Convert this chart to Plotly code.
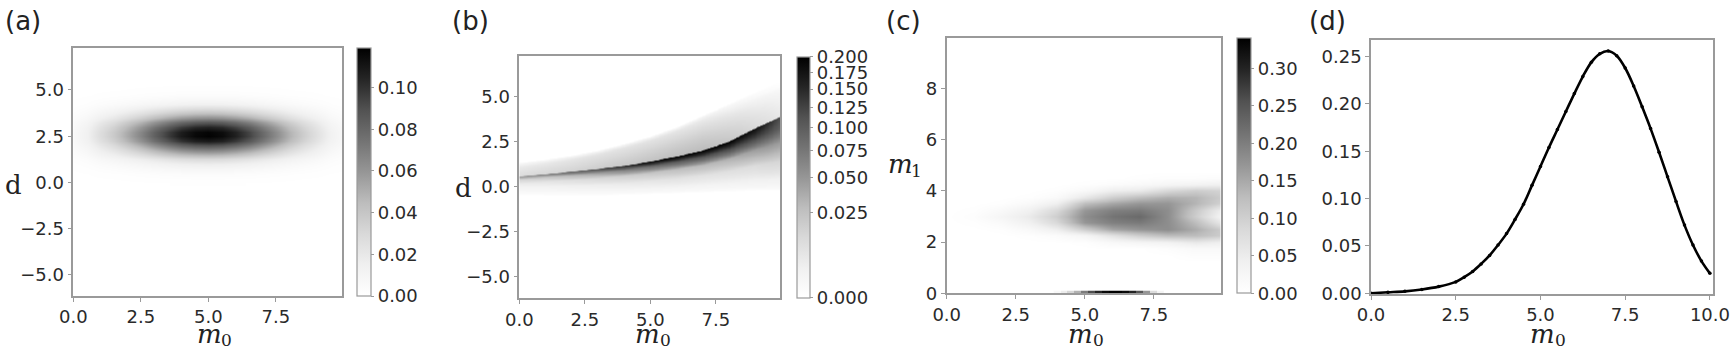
import numpy as np
import plotly.graph_objects as go

# ---------------- data ----------------
# Panel (a): separable blob, profiles read along the two axes
A_M0 = [0.0, 0.5, 1.0, 1.5, 2.0, 2.5, 3.0, 3.5, 4.0, 4.5, 5.0, 5.5, 6.0, 6.5, 7.0, 7.5, 8.0, 8.5, 9.0, 9.5, 10.0]
A_M0_PROFILE = [0.06, 0.12, 0.229, 0.325, 0.439, 0.567, 0.698, 0.82, 0.918, 0.981, 1.0, 0.972, 0.901, 0.797,
                0.672, 0.541, 0.415, 0.304, 0.212, 0.11, 0.06]
A_D = [0.0, 0.25, 0.5, 0.75, 1.0, 1.25, 1.5, 1.75, 2.0, 2.25, 2.5, 2.75, 3.0, 3.25, 3.5, 3.75, 4.0, 4.25,
       4.5, 4.75, 5.0, 5.25]
A_D_PROFILE = [0.005, 0.013, 0.032, 0.069, 0.135, 0.241, 0.389, 0.569, 0.755, 0.909, 0.992, 0.983, 0.882,
               0.719, 0.531, 0.356, 0.216, 0.119, 0.060, 0.027, 0.011, 0.004]
A_PEAK = 0.119
A_CB_TICKS = [0.0, 0.02, 0.04, 0.06, 0.08, 0.10]

# Panel (b): curved ridge, per-column features read at m0 = 0..10
B_M0 = [0, 1, 2, 3, 4, 5, 6, 7, 8, 9, 10]
B_RIDGE = [0.56, 0.69, 0.83, 0.98, 1.15, 1.39, 1.67, 2.0, 2.5, 3.24, 3.9]      # d of sharp ridge
B_UPPER = [1.08, 1.26, 1.48, 1.76, 2.13, 2.54, 3.06, 3.7, 4.35, 5.0, 5.6]      # d of upper band edge
B_FLOOR = [-0.5, -0.5, -0.5, -0.5, -0.45, -0.4, -0.35, -0.3, -0.25, -0.2, -0.2]  # d where it fades out
B_PEAK = [0.05, 0.065, 0.09, 0.116, 0.151, 0.188, 0.2, 0.2, 0.2, 0.18, 0.113]
B_BAND = [0.011, 0.013, 0.015, 0.018, 0.021, 0.024, 0.027, 0.028, 0.022, 0.012, 0.005]
B_EDGE = [0.005, 0.006, 0.007, 0.008, 0.008, 0.008, 0.007, 0.005, 0.002, 0.0005, 0.0]
B_T15 = [0.3, 0.32, 0.35, 0.38, 0.42, 0.45, 0.5, 0.55, 0.6, 0.7, 0.85]
B_T35 = [0.1, 0.1, 0.105, 0.11, 0.115, 0.12, 0.135, 0.15, 0.17, 0.25, 0.4]
B_T60 = [0.03, 0.03, 0.032, 0.033, 0.034, 0.035, 0.04, 0.04, 0.045, 0.06, 0.12]
B_T85 = [0.006, 0.006, 0.006, 0.006, 0.007, 0.007, 0.008, 0.008, 0.009, 0.012, 0.02]
B_VMAX = 0.2
B_CB_TICKS = [0.0, 0.025, 0.05, 0.075, 0.1, 0.125, 0.15, 0.175, 0.2]

# Panel (c): grid of values read at (m0, m1)
C_M0 = [0, 1, 2, 3, 4, 5, 6, 7, 8, 9, 10]
C_M1 = [1.25, 1.5, 1.75, 2.0, 2.25, 2.5, 2.75, 3.0, 3.25, 3.5, 3.75, 4.0, 4.25, 4.5, 4.75]
C_Z = [
    [0, 0, 0, 0, 0, 0, 0, 0, 0, 0, 0],
    [0, 0, 0, 0, 0, 0, 0, 0, 0, .007, .007],
    [0, 0, 0, 0, 0, 0, 0, 0, .007, .017, .017],
    [0, 0, 0, 0, 0, .003, .017, .027, .034, .054, .041],
    [0, 0, 0, .003, .010, .027, .068, .102, .126, .126, .102],
    [0, 0, .003, .017, .044, .102, .153, .170, .180, .146, .102],
    [0, .003, .014, .041, .085, .170, .197, .204, .180, .126, .054],
    [0, .007, .027, .054, .102, .180, .211, .224, .180, .102, .027],
    [0, .003, .017, .041, .085, .170, .197, .204, .180, .109, .041],
    [0, 0, .003, .017, .044, .126, .153, .170, .170, .136, .092],
    [0, 0, 0, .003, .014, .058, .102, .126, .143, .136, .102],
    [0, 0, 0, 0, .003, .017, .044, .054, .085, .102, .092],
    [0, 0, 0, 0, 0, .003, .010, .017, .027, .034, .041],
    [0, 0, 0, 0, 0, 0, 0, .003, .007, .007, .010],
    [0, 0, 0, 0, 0, 0, 0, 0, 0, 0, 0],
]
C_STRIP_M0 = [4.0, 4.25, 4.5, 4.75, 5.0, 5.25, 5.5, 5.75, 6.0, 6.25, 6.5, 6.75, 7.0, 7.25, 7.5, 7.75]
C_STRIP = [0.02, 0.05, 0.09, 0.14, 0.2, 0.26, 0.3, 0.33, 0.34, 0.34, 0.33, 0.3, 0.25, 0.17, 0.08, 0.03]
C_VMAX = 0.34
C_CB_TICKS = [0.0, 0.05, 0.10, 0.15, 0.20, 0.25, 0.30]

# Panel (d): marginal curve
D_M0 = [0.0, 0.5, 1.0, 1.5, 2.0, 2.5, 2.75, 3.0, 3.25, 3.5, 3.75, 4.0, 4.25, 4.5, 4.75, 5.0, 5.25, 5.5,
        5.75, 6.0, 6.25, 6.5, 6.75, 7.0, 7.25, 7.5, 7.75, 8.0, 8.25, 8.5, 8.75, 9.0, 9.25, 9.5, 9.75, 10.0]
D_VAL = [0.000, 0.001, 0.002, 0.004, 0.007, 0.012, 0.017, 0.023, 0.031, 0.040, 0.051, 0.063, 0.078, 0.094,
         0.114, 0.134, 0.154, 0.173, 0.192, 0.211, 0.229, 0.244, 0.253, 0.256, 0.251, 0.238, 0.219, 0.197,
         0.174, 0.149, 0.123, 0.097, 0.072, 0.051, 0.034, 0.021]

# ---------------- build tables ----------------
W, H = 1735, 352
GREYS = [[0, '#ffffff'], [0.125, '#f0f0f0'], [0.25, '#d9d9d9'], [0.375, '#bdbdbd'], [0.5, '#969696'],
         [0.625, '#737373'], [0.75, '#525252'], [0.875, '#252525'], [1, '#000000']]

z_a = A_PEAK * np.outer(np.array(A_D_PROFILE), np.array(A_M0_PROFILE))

m0_grid = np.linspace(0, 10, 201)
d_grid = np.arange(-1.0, 6.5001, 0.02)
z_b = np.zeros((len(d_grid), len(m0_grid)))
for j, m in enumerate(m0_grid):
    p = {k: float(np.interp(m, B_M0, arr)) for k, arr in
         dict(r=B_RIDGE, u=B_UPPER, b=B_FLOOR, pk=B_PEAK, band=B_BAND, edge=B_EDGE,
              t15=B_T15, t35=B_T35, t60=B_T60, t85=B_T85).items()}
    r, b, u, pk = p['r'], p['b'], p['u'], p['pk']
    span = r - b
    nd = [b, r - 0.85 * span, r - 0.6 * span, r - 0.35 * span, r - 0.15 * span, r, r + 0.03, u, u + 0.25]
    nv = [0, pk * p['t85'], pk * p['t60'], pk * p['t35'], pk * p['t15'], pk, p['band'], p['edge'], 0]
    col = np.interp(d_grid, nd, nv, left=0, right=0)
    z_b[:, j] = np.sqrt(np.clip(col, 0, None) / B_VMAX)

# ---------------- figure ----------------
def dom_x(x0, x1):
    return [x0 / W, x1 / W]

def dom_y(top, bot):
    return [1 - bot / H, 1 - top / H]

fig = go.Figure()

fig.add_trace(go.Heatmap(x=A_M0, y=A_D, z=z_a, zsmooth='best', coloraxis='coloraxis',
                         xaxis='x', yaxis='y', hoverinfo='skip'))
fig.add_trace(go.Heatmap(x=m0_grid, y=d_grid, z=z_b, zsmooth='best', coloraxis='coloraxis2',
                         xaxis='x2', yaxis='y2', hoverinfo='skip'))
fig.add_trace(go.Heatmap(x=C_M0, y=C_M1, z=C_Z, zsmooth='best', coloraxis='coloraxis3',
                         xaxis='x3', yaxis='y3', hoverinfo='skip'))
fig.add_trace(go.Heatmap(x=C_STRIP_M0, y0=0.05, dy=0.1, z=[C_STRIP], zsmooth=False, coloraxis='coloraxis3',
                         xaxis='x3', yaxis='y3', hoverinfo='skip'))
fig.add_trace(go.Scatter(x=D_M0, y=D_VAL, mode='lines+markers', line=dict(color='black', width=2.6, shape='spline'),
                         marker=dict(color='black', size=3.5), xaxis='x4', yaxis='y4', showlegend=False))

FRAME = '#9a9a9a'
TICKFONT = dict(family='DejaVu Sans', size=18, color='#2a2a2a')
axis_common = dict(showline=True, mirror=True, linecolor=FRAME, linewidth=1.6, ticks='outside', ticklen=4,
                   tickcolor=FRAME, tickwidth=1, showgrid=False, zeroline=False, tickfont=TICKFONT,
                   automargin=False)

x_ticks_h = dict(tickvals=[0, 2.5, 5, 7.5], tickformat='.1f')
d_ticks = dict(tickvals=[-5, -2.5, 0, 2.5, 5], tickformat='.1f')

fig.update_layout(
    width=W, height=H, margin=dict(l=0, r=0, t=0, b=0, pad=0, autoexpand=False),
    paper_bgcolor='white', plot_bgcolor='white', showlegend=False,
    font=dict(family='DejaVu Sans', size=18, color='#2a2a2a'),
    xaxis=dict(domain=dom_x(73.3, 342), range=[0, 9.95], anchor='y', **x_ticks_h, **axis_common),
    yaxis=dict(domain=dom_y(48, 296), range=[-6.14, 7.27], anchor='x', **d_ticks, **axis_common),
    xaxis2=dict(domain=dom_x(519.3, 780), range=[0, 9.95], anchor='y2', **x_ticks_h, **axis_common),
    yaxis2=dict(domain=dom_y(56, 298.3), range=[-6.2, 7.26], anchor='x2', **d_ticks, **axis_common),
    xaxis3=dict(domain=dom_x(946.7, 1220.7), range=[0, 9.92], anchor='y3', **x_ticks_h, **axis_common),
    yaxis3=dict(domain=dom_y(38.3, 293.3), range=[0, 9.95], anchor='x3', tickvals=[0, 2, 4, 6, 8],
                **axis_common),
    xaxis4=dict(domain=dom_x(1371, 1713.3), range=[0, 10.1], anchor='y4', tickvals=[0, 2.5, 5, 7.5, 10],
                tickformat='.1f', **axis_common),
    yaxis4=dict(domain=dom_y(40, 294), range=[-0.0008, 0.2676], anchor='x4',
                tickvals=[0, 0.05, 0.1, 0.15, 0.2, 0.25], tickformat='.2f', **axis_common),
)

def cbar(x0, top, bot, thick, tickvals, ticktext):
    return dict(x=x0 / W, xanchor='left', xpad=0, ypad=0, y=1 - (top + bot) / 2 / H, yanchor='middle',
                len=(bot - top) / H, lenmode='fraction', thickness=thick, thicknessmode='pixels',
                outlinewidth=1.2, outlinecolor=FRAME, ticks='outside', ticklen=3, tickcolor=FRAME,
                tickvals=tickvals, ticktext=ticktext, tickfont=TICKFONT)

fig.update_layout(
    coloraxis=dict(colorscale=GREYS, cmin=0, cmax=A_PEAK,
                   colorbar=cbar(357, 48, 296, 14, A_CB_TICKS, ['%.2f' % t for t in A_CB_TICKS])),
    coloraxis2=dict(colorscale=GREYS, cmin=0, cmax=1,
                    colorbar=cbar(797, 56.7, 298, 13, [float(np.sqrt(t / B_VMAX)) for t in B_CB_TICKS],
                                  ['%.3f' % t for t in B_CB_TICKS])),
    coloraxis3=dict(colorscale=GREYS, cmin=0, cmax=C_VMAX,
                    colorbar=cbar(1237, 38.3, 293.3, 14, C_CB_TICKS, ['%.2f' % t for t in C_CB_TICKS])),
)

SERIF = 'DejaVu Serif'
ann = []
def txt(x, y, s, size=26, family=SERIF, xanchor='center'):
    ann.append(dict(x=x / W, y=1 - y / H, xref='paper', yref='paper', text=s, showarrow=False,
                    xanchor=xanchor, yanchor='middle', borderpad=0,
                    font=dict(family=family, size=size, color='#222')))

for lx, lab in [(4, '(a)'), (451, '(b)'), (885, '(c)'), (1308, '(d)')]:
    txt(lx, 21, lab, size=26, family='DejaVu Sans', xanchor='left')
txt(13, 185, 'd')
txt(463, 188, 'd')
# m_1 (y title of c): italic m plus lowered subscript
txt(900, 164, '<i>m</i>')
txt(917, 171, '1', size=17)
# m_0 (x titles)
for cx in [209, 647.5, 1080.5, 1542.5]:
    txt(cx, 334, '<i>m</i>')
    txt(cx + 17.5, 340, '0', size=17)
fig.update_layout(annotations=ann)

fig.write_html('out.html', config={'displayModeBar': False},
               post_script="document.body.style.margin='0';document.body.style.overflow='hidden';")
